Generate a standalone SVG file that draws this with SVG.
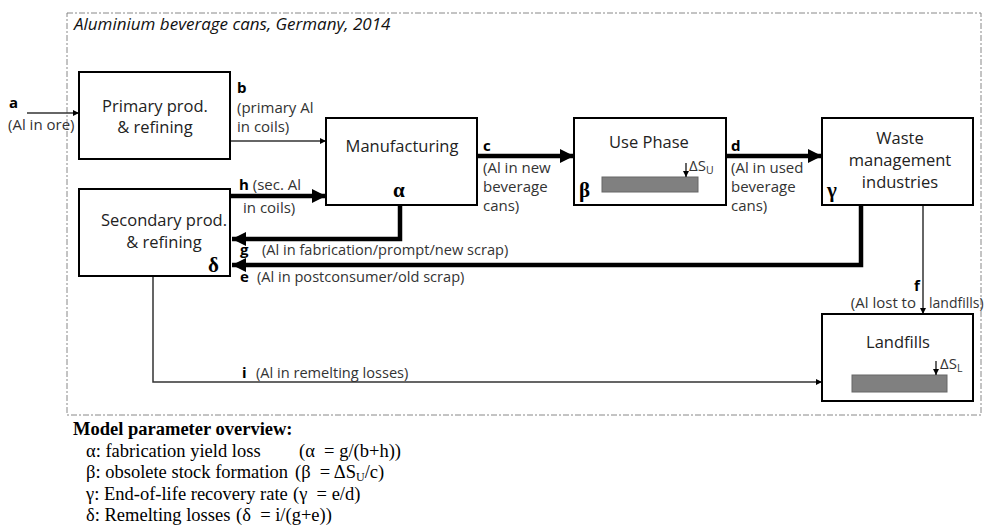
<svg xmlns="http://www.w3.org/2000/svg" width="984" height="529" viewBox="0 0 984 529">
<defs>
<marker id="headThick" markerUnits="userSpaceOnUse" markerWidth="16" markerHeight="14" refX="14" refY="7" orient="auto"><path d="M0,0 L14,7 L0,14 Z" fill="#000"/></marker>
<marker id="headTiny" markerUnits="userSpaceOnUse" markerWidth="8" markerHeight="8" refX="6" refY="3" orient="auto"><path d="M0,0 L6,3 L0,6 Z" fill="#000"/></marker>
</defs>
<style>
.box{fill:#fff;stroke:#000;stroke-width:2}
.lbl{font-family:"Open Sans","Liberation Sans",Arial,sans-serif;font-size:15px;fill:#333}
.nl{font-family:"Open Sans","Liberation Sans",Arial,sans-serif;font-size:16.5px;fill:#222;text-anchor:middle}
.b{font-weight:bold;fill:#000}
.gr{font-family:"Liberation Serif","Times New Roman",serif;font-size:21px;font-weight:bold;fill:#000}
.thick{fill:none;stroke:#000;stroke-width:4.5}
.thin{fill:none;stroke:#333;stroke-width:1.5}
.stock{fill:#808080;stroke:#666;stroke-width:1}
.ser{font-family:"Liberation Serif","Times New Roman",serif;font-size:18.5px;fill:#000}
</style>
<rect x="67" y="13" width="914" height="402" fill="none" stroke="#888" stroke-width="1" stroke-dasharray="6 2 2 2"/>
<text x="74" y="30" class="lbl" style="font-style:italic;font-size:17px;fill:#111">Aluminium beverage cans, Germany, 2014</text>

<g id="connectors">
<line x1="27" y1="113" x2="79" y2="113" class="thin" marker-end="url(#headTiny)"/>
<line x1="230" y1="141" x2="326" y2="141" class="thin" marker-end="url(#headTiny)"/>
<line x1="230" y1="196" x2="326" y2="196" class="thick" marker-end="url(#headThick)"/>
<line x1="477" y1="156" x2="574" y2="156" class="thick" marker-end="url(#headThick)"/>
<line x1="726" y1="156" x2="822" y2="156" class="thick" marker-end="url(#headThick)"/>
<path d="M400,205 V239 H232" class="thick" marker-end="url(#headThick)"/>
<path d="M861,205 V265 H232" class="thick" marker-end="url(#headThick)"/>
<line x1="923" y1="205" x2="923" y2="314" class="thin" marker-end="url(#headTiny)"/>
<path d="M153,276 V382 H822" class="thin" marker-end="url(#headTiny)"/>
<text x="9" y="108" class="lbl b">a</text>
<text x="8" y="130" class="lbl">(Al in ore)</text>
<text x="237" y="93" class="lbl b">b</text>
<text x="237" y="113" class="lbl">(primary Al</text>
<text x="237" y="132" class="lbl">in coils)</text>
<text x="239" y="190" class="lbl"><tspan class="b">h</tspan> (sec. Al</text>
<text x="243" y="213" class="lbl">in coils)</text>
<text x="483" y="151" class="lbl b">c</text>
<text x="483" y="173" class="lbl">(Al in new</text>
<text x="483" y="192" class="lbl">beverage</text>
<text x="483" y="211" class="lbl">cans)</text>
<text x="731" y="151" class="lbl b">d</text>
<text x="731" y="173" class="lbl">(Al in used</text>
<text x="731" y="192" class="lbl">beverage</text>
<text x="731" y="211" class="lbl">cans)</text>
<text x="240" y="255" class="lbl b">g</text>
<text x="262" y="255" class="lbl" style="font-size:14.6px">(Al in fabrication/prompt/new scrap)</text>
<text x="240" y="282" class="lbl b">e</text>
<text x="257" y="282" class="lbl" style="font-size:14.6px">(Al in postconsumer/old scrap)</text>
<text x="914" y="291" class="lbl b">f</text>
<text x="916" y="308" class="lbl" text-anchor="end">(Al lost to</text>
<text x="929" y="308" class="lbl" style="font-size:14px">landfills)</text>
<text x="242" y="378" class="lbl b">i</text>
<text x="256" y="378" class="lbl" style="font-size:14.6px">(Al in remelting losses)</text>
</g>

<g id="primary">
<rect x="79" y="72" width="151" height="87" class="box"/>
<text x="155" y="112" class="nl">Primary prod.</text>
<text x="155" y="133" class="nl">&amp; refining</text>
</g>
<g id="secondary">
<rect x="79" y="189" width="151" height="87" class="box"/>
<text x="164" y="226" class="nl">Secondary prod.</text>
<text x="164" y="248" class="nl">&amp; refining</text>
<text x="208" y="272" class="gr">δ</text>
</g>
<g id="manufacturing">
<rect x="326" y="118" width="151" height="87" class="box"/>
<text x="402" y="152" class="nl">Manufacturing</text>
<text x="393" y="197" class="gr">α</text>
</g>
<g id="usephase">
<rect x="574" y="118" width="152" height="87" class="box"/>
<text x="649" y="148" class="nl">Use Phase</text>
<text x="579" y="197" class="gr">β</text>
<rect x="602" y="177" width="96" height="15" class="stock"/>
<line x1="686" y1="163" x2="686" y2="177" stroke="#000" stroke-width="1.2" marker-end="url(#headTiny)"/>
<text x="689" y="171" class="lbl">ΔS<tspan dy="3" font-size="10.5">U</tspan></text>
</g>
<g id="waste">
<rect x="822" y="118" width="151" height="87" class="box"/>
<text x="900" y="144" class="nl">Waste</text>
<text x="900" y="166" class="nl">management</text>
<text x="900" y="188" class="nl">industries</text>
<text x="827" y="197" class="gr">γ</text>
</g>
<g id="landfills">
<rect x="822" y="314" width="151" height="87" class="box"/>
<text x="898" y="348" class="nl">Landfills</text>
<rect x="852" y="375" width="95" height="17" class="stock"/>
<line x1="936" y1="361" x2="936" y2="375" stroke="#000" stroke-width="1.2" marker-end="url(#headTiny)"/>
<text x="940" y="369" class="lbl">ΔS<tspan dy="3" font-size="10.5">L</tspan></text>
</g>

<g id="legend">
<text x="73" y="435" class="ser" style="font-weight:bold">Model parameter overview:</text>
<text x="86" y="457" class="ser">α: fabrication yield loss</text>
<text x="299" y="457" class="ser">(α &#160;= g/(b+h))</text>
<text x="86" y="478" class="ser">β: obsolete stock formation</text>
<text x="295" y="478" class="ser">(β &#160;= ΔS<tspan dy="3" font-size="12">U</tspan><tspan dy="-3">/c)</tspan></text>
<text x="86" y="500" class="ser">γ: End-of-life recovery rate</text>
<text x="293" y="500" class="ser">(γ &#160;= e/d)</text>
<text x="86" y="521" class="ser">δ: Remelting losses</text>
<text x="236" y="521" class="ser">(δ &#160;= i/(g+e))</text>
</g>
</svg>
